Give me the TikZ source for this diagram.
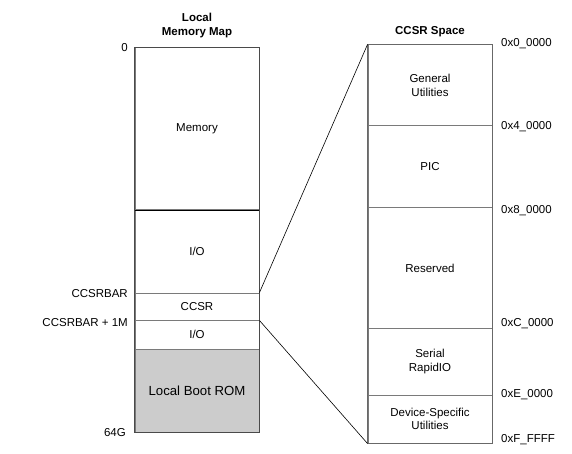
\documentclass[tikz,border=0pt]{standalone}
\usepackage{fontspec}
\setmainfont{Liberation Sans}
\definecolor{romgray}{HTML}{CCCCCC}
\definecolor{sepgray}{HTML}{7A7A7A}
\definecolor{framegray}{HTML}{4A4A4A}
\tikzset{cell/.style = {draw=sepgray, line width=1pt, minimum width=124pt, inner sep=0pt,
                        align=center, font=\fontsize{11.5}{13.5}\selectfont},
         lbl/.style = {inner sep=0pt, font=\fontsize{11.5}{13.5}\selectfont},
         title/.style = {inner sep=0pt, align=center, font=\fontsize{11.5}{14}\selectfont\bfseries}
        }

\begin{document}
\begin{tikzpicture}[x=1pt, y=-1pt]
\useasboundingbox (0,0) rectangle (572,454);
% local memory map
\foreach \n/\y/\h/\t in {mem/129/162/Memory, ioa/251.5/83/{I/O}, ccsr/306.5/27/CCSR, iob/334.5/29/{I/O}}
   \node[cell, minimum height=\h pt] (\n) at (197,\y) {\t};
\node[cell, minimum height=83pt, fill=romgray, font=\fontsize{13.2}{15}\selectfont] (rom) at (197,390.5) {Local Boot ROM};
\draw[line width=0.6pt] (mem.south west) -- (mem.south east);
\draw[framegray, line width=1pt] (mem.north west) rectangle (rom.south east);
\node[title] (tl) at (197,26) {Local\\Memory Map};
\foreach \n/\y/\t in {a0/48/0, abar/294/CCSRBAR, abarm/323/CCSRBAR + 1M}
   \node[lbl, anchor=east] (\n) at (128,\y) {\t};
\node[lbl, anchor=east] (a64) at (126,433) {64G};
% ccsr space
\foreach \n/\y/\h/\t in {gu/85.5/81/{General\\Utilities}, pic/167/82/PIC, res/268/120/Reserved,
                         srio/361.5/67/{Serial\\RapidIO}, dsu/419/48/{Device-Specific\\Utilities}}
   \node[cell, minimum height=\h pt] (\n) at (430,\y) {\t};
\draw[sepgray!85!black, line width=1.3pt] (gu.north west) rectangle (dsu.south east);
\node[title] (tr) at (430,32) {CCSR Space};
\foreach \n/\y/\t in {b0/44/0x0\_0000, b4/127/0x4\_0000, b8/211/0x8\_0000, bc/324/0xC\_0000, be/395/0xE\_0000, bf/440/0xF\_FFFF}
   \node[lbl, anchor=west] (\n) at (501,\y) {\t};
% zoom lines
\draw[line width=0.6pt] (ccsr.north east) -- (gu.north west);
\draw[line width=0.6pt] (ccsr.south east) -- (dsu.south west);
\end{tikzpicture}
\end{document}
